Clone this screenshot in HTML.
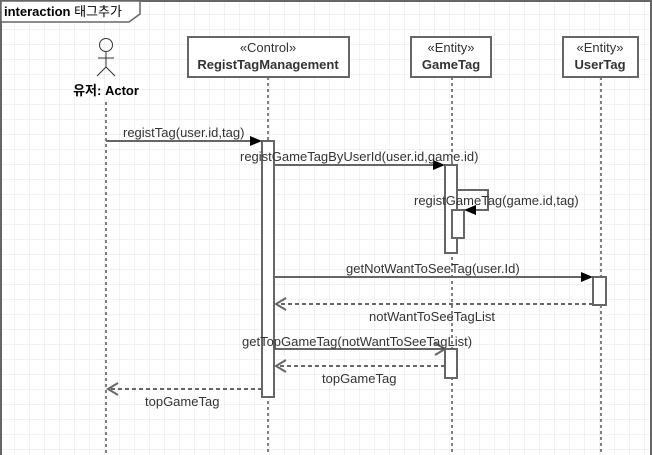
<html><body style="margin:0;width:652px;height:455px;overflow:hidden;background:#fff">
<svg width="652" height="455" xmlns="http://www.w3.org/2000/svg" font-family="Liberation Sans, Noto Sans CJK KR, sans-serif" font-size="13">
<defs>
<pattern id="g" width="15" height="15" patternUnits="userSpaceOnUse"><path d="M15 0V15H0" fill="none" stroke="#e3e3e3" stroke-width="1"/></pattern>
</defs>
<rect width="652" height="455" fill="url(#g)"/>
<rect x="1" y="1" width="650" height="460" fill="none" stroke="#666" stroke-width="2"/>
<path d="M1 1H140V14L129 22H1Z" fill="#fff" stroke="#666" stroke-width="1.5"/>
<text x="4" y="16" font-weight="bold" font-size="13">interaction <tspan font-weight="normal">태그추가</tspan></text>
<g stroke="#333" fill="none">
<circle cx="106" cy="45" r="6.5"/><path d="M106 52V67M98 58H114M97 76L106 67L115 76"/>
</g>
<text x="106" y="95" text-anchor="middle" font-weight="bold" font-size="13">유저: Actor</text>
<g stroke="#000" stroke-dasharray="3,3">
<path d="M106 102V455M268 77V455M452 77V455M601 77V455"/>
</g>
<g fill="#fff" stroke="#666" stroke-width="2">
<rect x="188" y="37" width="161" height="40"/>
<rect x="411" y="37" width="80" height="40"/>
<rect x="563" y="37" width="75" height="40"/>
</g>
<g text-anchor="middle" font-size="13" fill="#333">
<text x="268" y="52">«Control»</text><text x="268" y="69" font-weight="bold" font-size="13">RegistTagManagement</text>
<text x="451" y="52">«Entity»</text><text x="451" y="69" font-weight="bold" font-size="13">GameTag</text>
<text x="600" y="52">«Entity»</text><text x="600" y="69" font-weight="bold" font-size="13">UserTag</text>
</g>
<g fill="#fff" stroke="#666" stroke-width="2">
<rect x="262" y="141" width="12" height="256"/>
<rect x="445" y="165" width="12" height="88"/>
<rect x="452" y="210" width="12" height="28"/>
<rect x="593" y="277" width="13" height="28"/>
<rect x="445" y="349" width="12" height="29"/>
</g>
<g stroke="#666" stroke-width="2" fill="none">
<path d="M106 141H252M274 165H435M457 190H488V210H474M274 277H583M274 349H445"/>
<path d="M593 304H277M445 366H277M262 389H108" stroke-dasharray="4,3"/>
<path d="M286 298L276 304L286 310M286 360L276 366L286 372M118 383L108 389L118 395M435 343L445 349L435 355"/>
</g>
<g fill="#000">
<path d="M250 136L262 141L250 146Z"/><path d="M433 160L445 165L433 170Z"/>
<path d="M476 205L464 210L476 215Z"/><path d="M581 272L593 277L581 282Z"/>
</g>
<g fill="#333" font-size="13">
<text x="123" y="137">registTag(user.id,tag)</text>
<text x="240" y="161">registGameTagByUserId(user.id,game.id)</text>
<text x="414" y="205">registGameTag(game.id,tag)</text>
<text x="346" y="273">getNotWantToSeeTag(user.Id)</text>
<text x="369" y="321">notWantToSeeTagList</text>
<text x="242" y="346">getTopGameTag(notWantToSeeTagList)</text>
<text x="322" y="383">topGameTag</text>
<text x="145" y="406">topGameTag</text>
</g>
</svg>
</body></html>
